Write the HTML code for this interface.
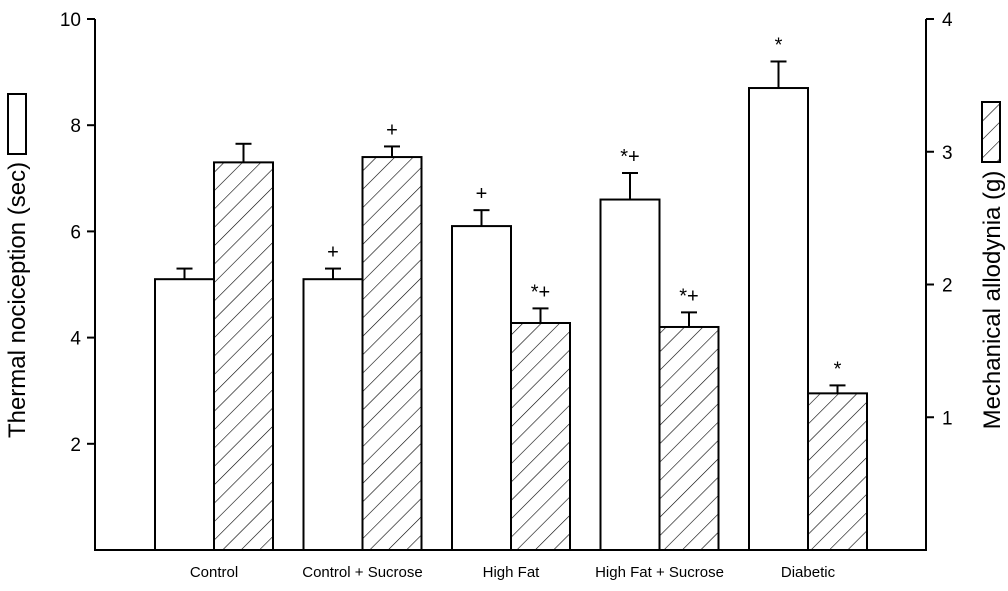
<!DOCTYPE html>
<html><head><meta charset="utf-8"><style>body{margin:0;background:#fff}svg{display:block;font-family:"Liberation Sans",Arial,sans-serif}</style></head>
<body>
<svg id="chart" width="1008" height="591">
<defs><pattern id="hatch" patternUnits="userSpaceOnUse" width="13" height="13" patternTransform="rotate(45)"><line x1="0" y1="0" x2="0" y2="13" stroke="#000" stroke-width="1.2"/></pattern></defs>
</svg>
<script>
const categories=["Control","Control + Sucrose","High Fat","High Fat + Sucrose","Diabetic"];
const thermal=[5.1,5.1,6.1,6.6,8.7];
const thermalErr=[0.2,0.2,0.3,0.5,0.5];
const mech=[2.92,2.96,1.71,1.68,1.18];
const mechErr=[0.14,0.08,0.11,0.11,0.06];
const thermalMarks=["","+","+","*+","*"];
const mechMarks=["","+","*+","*+","*"];
const leftTicks=[2,4,6,8,10];
const rightTicks=[1,2,3,4];
const svg=document.getElementById('chart');const NS="http://www.w3.org/2000/svg";
const L=95,R=926,B=550,T=19;
const yL=v=>B-(v/10)*(B-T), yR=v=>B-(v/4)*(B-T);
const bx=i=>155+i*148.5, bw=59;
function mk(t,a,name){const e=document.createElementNS(NS,t);for(const k in a)e.setAttribute(k,a[k]);


svg.appendChild(e);return e;}
function txt(x,y,s,size,name,anchor,rot){const e=mk('text',{x:x,y:y,'font-size':size,'text-anchor':anchor||'middle'},name);if(rot)e.setAttribute('transform',rot);e.textContent=s;return e;}
categories.forEach((c,i)=>{
 const x=bx(i);
 let y=yL(thermal[i]),ye=yL(thermal[i]+thermalErr[i]);
 mk('line',{x1:x+bw/2,y1:y,x2:x+bw/2,y2:ye,stroke:'#000','stroke-width':2},'thermal-error');
 mk('line',{x1:x+bw/2-8,y1:ye,x2:x+bw/2+8,y2:ye,stroke:'#000','stroke-width':2},'thermal-error-cap');
 mk('rect',{x:x,y:y,width:bw,height:B-y,fill:'#fff',stroke:'#000','stroke-width':2},'thermal-bar');
 if(thermalMarks[i])txt(x+bw/2,ye-10,thermalMarks[i],20,'thermal-sig-mark');
 const x2=x+bw;
 y=yR(mech[i]);ye=yR(mech[i]+mechErr[i]);
 mk('line',{x1:x2+bw/2,y1:y,x2:x2+bw/2,y2:ye,stroke:'#000','stroke-width':2},'mech-error');
 mk('line',{x1:x2+bw/2-8,y1:ye,x2:x2+bw/2+8,y2:ye,stroke:'#000','stroke-width':2},'mech-error-cap');
 mk('rect',{x:x2,y:y,width:bw,height:B-y,fill:'url(#hatch)',stroke:'#000','stroke-width':2},'mech-bar');
 if(mechMarks[i])txt(x2+bw/2,ye-10,mechMarks[i],20,'mech-sig-mark');
 txt(x+bw,577,c,15,'x-tick-label');
});
mk('line',{x1:L,y1:T,x2:L,y2:B+1,stroke:'#000','stroke-width':2},'left-axis');
mk('line',{x1:R,y1:T,x2:R,y2:B+1,stroke:'#000','stroke-width':2},'right-axis');
mk('line',{x1:L,y1:B,x2:R,y2:B,stroke:'#000','stroke-width':2},'x-axis');
leftTicks.forEach(v=>{const y=yL(v);mk('line',{x1:L-8,y1:y,x2:L,y2:y,stroke:'#000','stroke-width':2},'left-tick');txt(L-14,y+7,String(v),19,'left-tick-label','end');});
rightTicks.forEach(v=>{const y=yR(v);mk('line',{x1:R,y1:y,x2:R+8,y2:y,stroke:'#000','stroke-width':2},'right-tick');txt(R+16,y+7,String(v),19,'right-tick-label','start');});
txt(25,300,'Thermal nociception (sec)',24,'y-axis-title-left','middle','rotate(-90 25 300)');
mk('rect',{x:8,y:94,width:18,height:60,fill:'#fff',stroke:'#000','stroke-width':2},'legend-thermal-swatch');
txt(1000,300,'Mechanical allodynia (g)',24,'y-axis-title-right','middle','rotate(-90 1000 300)');
mk('rect',{x:982,y:102,width:18,height:60,fill:'url(#hatch)',stroke:'#000','stroke-width':2},'legend-mech-swatch');
</script>
</body></html>
